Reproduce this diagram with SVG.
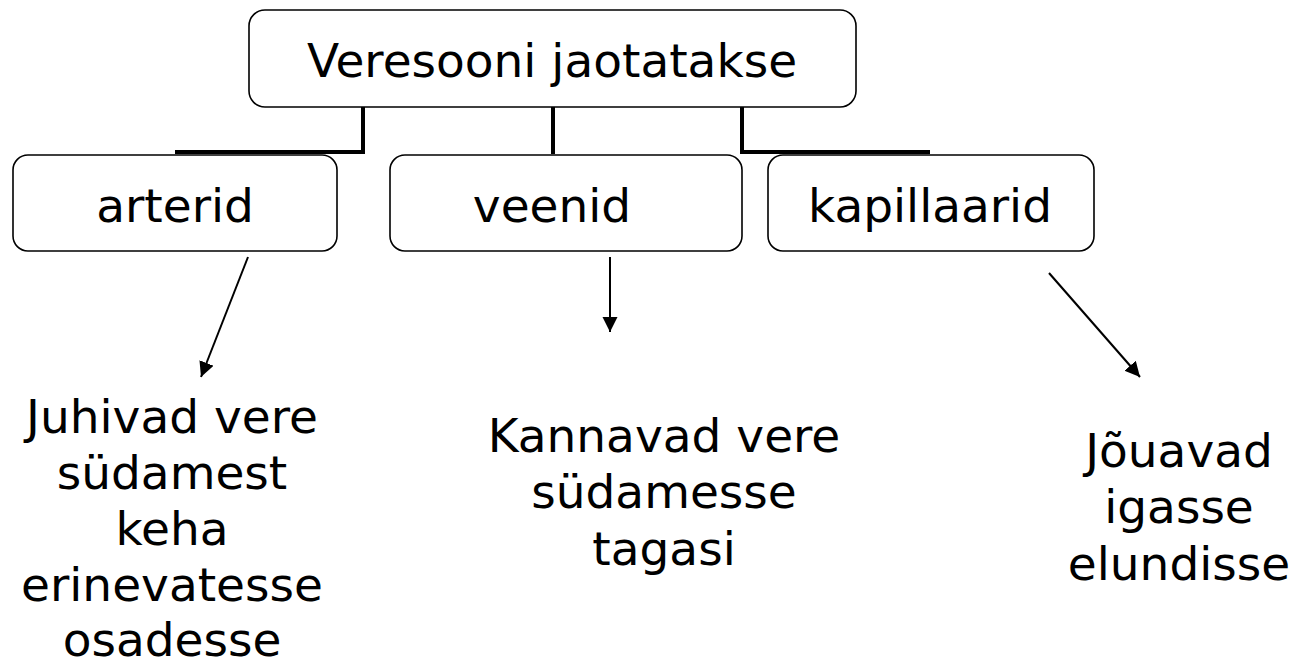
<svg xmlns="http://www.w3.org/2000/svg" width="1294" height="670" viewBox="0 0 1294 670">
<style>
.box{fill:#fff;stroke:#000;stroke-width:1.6}
.t{font-family:"DejaVu Sans","Verdana",sans-serif;font-size:47px;fill:#000;text-anchor:middle}
.tree{fill:none;stroke:#000;stroke-width:4}
.arr{fill:none;stroke:#000;stroke-width:2;marker-end:url(#ah)}
</style>
<defs>
<marker id="ah" markerUnits="userSpaceOnUse" markerWidth="16" markerHeight="16" refX="15" refY="7.5" orient="auto">
<path d="M0,0 L15,7.5 L0,15 z" fill="#000"/>
</marker>
</defs>
<rect width="1294" height="670" fill="#fff"/>
<g id="connectors">
<polyline class="tree" points="363,107 363,152 175,152"/>
<line class="tree" x1="553" y1="107" x2="553" y2="154"/>
<polyline class="tree" points="742,107 742,152 930,152"/>
<line class="arr" x1="248" y1="257" x2="201" y2="377"/>
<line class="arr" x1="610" y1="257" x2="610" y2="332"/>
<line class="arr" x1="1049" y1="273" x2="1140" y2="377"/>
</g>
<g id="root">
<rect class="box" x="249" y="10" width="607" height="97" rx="16"/>
<text class="t" x="552" y="77">Veresooni jaotatakse</text>
</g>
<g id="arterid">
<rect class="box" x="13" y="155" width="324" height="96" rx="15"/>
<text class="t" x="175" y="222">arterid</text>
</g>
<g id="veenid">
<rect class="box" x="390" y="155" width="352" height="96" rx="15"/>
<text class="t" x="552" y="222">veenid</text>
</g>
<g id="kapillaarid">
<rect class="box" x="768" y="155" width="326" height="96" rx="15"/>
<text class="t" x="930" y="222">kapillaarid</text>
</g>
<g id="arterid-desc">
<text class="t" x="172" y="433">Juhivad vere</text>
<text class="t" x="172" y="489">südamest</text>
<text class="t" x="172" y="545">keha</text>
<text class="t" x="172" y="601">erinevatesse</text>
<text class="t" x="172" y="656">osadesse</text>
</g>
<g id="veenid-desc">
<text class="t" x="664" y="452">Kannavad vere</text>
<text class="t" x="664" y="508">südamesse</text>
<text class="t" x="664" y="565">tagasi</text>
</g>
<g id="kapillaarid-desc">
<text class="t" x="1179" y="467">Jõuavad</text>
<text class="t" x="1179" y="523">igasse</text>
<text class="t" x="1179" y="580">elundisse</text>
</g>
</svg>
